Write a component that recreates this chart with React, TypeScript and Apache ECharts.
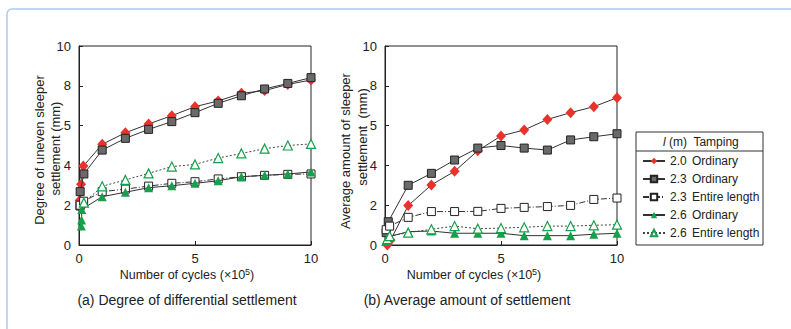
import React, { useEffect, useRef } from 'react';
import * as echarts from 'echarts';

const seriesNames = ['2.0 Ordinary', '2.3 Ordinary', '2.3 Entire length', '2.6 Ordinary', '2.6 Entire length'];
const yTickLabels: Record<number, string> = { 0: '0', 2: '2', 4: '4', 6: '5', 8: '8', 10: '10' };
const xTickLabels: Record<number, string> = { 0: '0', 5: '5', 10: '10' };

// (a) Degree of differential settlement  [cycles x10^5, mm]
const diffOrd20 = [[0.03, 2.23], [0.09, 3.05], [0.19, 3.97], [1, 5.06], [2, 5.64], [3, 6.08], [4, 6.5], [5, 6.95], [6, 7.24], [7, 7.62], [8, 7.76], [9, 8.07], [10, 8.29]];
const diffOrd23 = [[0.04, 1.96], [0.05, 2.68], [0.21, 3.57], [1, 4.77], [2, 5.36], [3, 5.81], [4, 6.2], [5, 6.65], [6, 7.12], [7, 7.5], [8, 7.84], [9, 8.12], [10, 8.41]];
const diffEnt23 = [[0.05, 2.0], [0.2, 2.2], [1, 2.68], [2, 2.81], [3, 2.96], [4, 3.1], [5, 3.18], [6, 3.32], [7, 3.43], [8, 3.5], [9, 3.55], [10, 3.57]];
const diffOrd26 = [[0.1, 0.95], [0.11, 1.26], [0.12, 1.79], [1, 2.43], [2, 2.65], [3, 2.88], [4, 2.98], [5, 3.1], [6, 3.23], [7, 3.43], [8, 3.5], [9, 3.57], [10, 3.67]];
const diffEnt26 = [[0.21, 2.13], [1, 2.95], [2, 3.27], [3, 3.6], [4, 3.94], [5, 4.05], [6, 4.37], [7, 4.6], [8, 4.84], [9, 5.0], [10, 5.08]];

// (b) Average amount of settlement
const avgOrd20 = [[0.1, 0], [0.24, 0.25], [1, 1.98], [2, 3.02], [3, 3.7], [4, 4.74], [5, 5.48], [6, 5.78], [7, 6.31], [8, 6.65], [9, 6.95], [10, 7.4]];
const avgOrd23 = [[0.05, 0.62], [0.14, 1.17], [1, 3.0], [2, 3.6], [3, 4.27], [4, 4.87], [5, 5.0], [6, 4.87], [7, 4.77], [8, 5.28], [9, 5.44], [10, 5.59]];
const avgEnt23 = [[0.05, 0.77], [0.2, 0.95], [1, 1.39], [2, 1.68], [3, 1.68], [4, 1.69], [5, 1.84], [6, 1.89], [7, 1.93], [8, 1.99], [9, 2.29], [10, 2.36]];
const avgOrd26 = [[0.03, 0.17], [0.17, 0.42], [1, 0.67], [2, 0.7], [3, 0.59], [4, 0.59], [5, 0.59], [6, 0.47], [7, 0.47], [8, 0.47], [9, 0.54], [10, 0.59]];
const avgEnt26 = [[0.1, 0.3], [0.2, 0.45], [1, 0.62], [2, 0.79], [3, 0.95], [4, 0.82], [5, 0.85], [6, 0.89], [7, 0.95], [8, 0.95], [9, 0.99], [10, 1.02]];

const FONT = '"Liberation Sans", Arial, Helvetica, sans-serif';
const TXT = '#222';
const RED = '#e8322b';
const GREEN = '#15a04b';

const styles: any[] = [
  { symbol: 'diamond', symbolSize: [10, 11], itemStyle: { color: RED, borderWidth: 0 }, lineStyle: { color: '#333', width: 1, type: 'solid' } },
  { symbol: 'rect', symbolSize: 8, itemStyle: { color: '#6a6a6a', borderColor: '#222', borderWidth: 1 }, lineStyle: { color: '#333', width: 1, type: 'solid' } },
  { symbol: 'rect', symbolSize: 8, itemStyle: { color: '#fff', borderColor: '#222', borderWidth: 1 }, lineStyle: { color: '#333', width: 1, type: [6, 2, 1, 2] } },
  { symbol: 'triangle', symbolSize: 9, itemStyle: { color: GREEN, borderWidth: 0 }, lineStyle: { color: '#333', width: 1, type: 'solid' } },
  { symbol: 'triangle', symbolSize: 9, itemStyle: { color: '#fff', borderColor: GREEN, borderWidth: 1.2 }, lineStyle: { color: '#444', width: 1, type: [2, 2] } },
];

function makeAxisX(gridIndex: number) {
  return {
    type: 'value', gridIndex, min: 0, max: 10, interval: 5,
    axisLine: { show: true, lineStyle: { color: '#222', width: 1 } },
    axisTick: { show: true, inside: true, length: 4, lineStyle: { color: '#222' } },
    axisLabel: { margin: 7, fontSize: 13, color: TXT, fontFamily: FONT, formatter: (v: number) => xTickLabels[v] ?? '' },
    splitLine: { show: false },
  };
}
function makeAxisY(gridIndex: number) {
  return {
    type: 'value', gridIndex, min: 0, max: 10, interval: 2,
    axisLine: { show: true, lineStyle: { color: '#222', width: 1 } },
    axisTick: { show: true, inside: true, length: 4, lineStyle: { color: '#222' } },
    axisLabel: { margin: 8, fontSize: 13, color: TXT, fontFamily: FONT, formatter: (v: number) => yTickLabels[v] ?? '' },
    splitLine: { show: false },
  };
}

export default function App() {
  const ref = useRef<HTMLDivElement>(null);
  useEffect(() => {
    if (!ref.current) return;
    const chart = echarts.init(ref.current, null, { renderer: 'svg' });
    const leftData = [diffOrd20, diffOrd23, diffEnt23, diffOrd26, diffEnt26];
    const rightData = [avgOrd20, avgOrd23, avgEnt23, avgOrd26, avgEnt26];
    const series: any[] = [];
    [leftData, rightData].forEach((set, gi) => {
      set.forEach((d, i) => {
        series.push({
          type: 'line', name: seriesNames[i], xAxisIndex: gi, yAxisIndex: gi, data: d,
          showAllSymbol: true, ...styles[i], z: 2 + i,
        });
      });
    });
    const plainText = (text: string, x: number, y: number, size: number, rotation = 0, align = 'center') => ({
      type: 'text', x, y, rotation,
      style: { text, fontSize: size, fontFamily: FONT, fill: TXT, textAlign: align, textVerticalAlign: 'middle' },
    });
    const axisName = (x: number, y: number) => ({
      type: 'text', x, y,
      style: {
        text: '{n|Number of cycles (×10}{s|5}{n|)}', textAlign: 'center', textVerticalAlign: 'middle',
        rich: {
          n: { fontSize: 12.5, fontFamily: FONT, fill: TXT, color: TXT },
          s: { fontSize: 9, fontFamily: FONT, fill: TXT, color: TXT, padding: [0, 0, 7, 0] },
        },
      },
    });
    chart.setOption({
      animation: false,
      grid: [
        { left: 79, top: 46, width: 232, height: 199, show: true, borderColor: '#222', borderWidth: 1, backgroundColor: 'transparent' },
        { left: 385, top: 46, width: 232, height: 199, show: true, borderColor: '#222', borderWidth: 1, backgroundColor: 'transparent' },
      ],
      xAxis: [makeAxisX(0), makeAxisX(1)],
      yAxis: [makeAxisY(0), makeAxisY(1)],
      legend: {
        orient: 'vertical', left: 642, top: 154, itemWidth: 22, itemHeight: 8, itemGap: 4,
        selectedMode: false, data: seriesNames, padding: 0,
        formatter: (name: string) => {
          const k = name.indexOf(' ');
          return `{a|${name.slice(0, k)}}{b|${name.slice(k + 1)}}`;
        },
        textStyle: {
          fontSize: 12, color: TXT, fontFamily: FONT, lineHeight: 14,
          rich: { a: { width: 22, fontSize: 12, fontFamily: FONT, color: TXT }, b: { fontSize: 12, fontFamily: FONT, color: TXT } },
        },
      },
      graphic: [
        { type: 'rect', shape: { x: 7, y: 9, width: 820, height: 360, r: 5 }, style: { fill: 'none', stroke: '#adcaec', lineWidth: 1.5 }, silent: true },
        plainText('Degree of uneven sleeper', 39, 150, 13, Math.PI / 2),
        plainText('settlement (mm)', 55, 148.5, 13, Math.PI / 2),
        plainText('Average amount of sleeper', 345, 151, 13, Math.PI / 2),
        plainText('settlement  (mm)', 362, 137, 13, Math.PI / 2),
        axisName(187, 275),
        axisName(474, 275),
        plainText('(a) Degree of differential settlement', 187, 300, 14),
        plainText('(b) Average amount of settlement', 467, 300, 14),
        { type: 'rect', shape: { x: 636, y: 132, width: 127, height: 113 }, style: { fill: 'none', stroke: '#333', lineWidth: 1 } },
        { type: 'line', shape: { x1: 636, y1: 151, x2: 763, y2: 151 }, style: { stroke: '#333', lineWidth: 1 } },
        {
          type: 'text', x: 663, y: 142,
          style: {
            text: '{i|l} (m)  Tamping', fontSize: 12, fontFamily: FONT, fill: TXT, textVerticalAlign: 'middle',
            rich: { i: { fontStyle: 'italic', fontSize: 12, fontFamily: FONT, fill: TXT, color: TXT } },
          },
        },
      ],
      series,
    });
    return () => chart.dispose();
  }, []);
  return <div ref={ref} style={{ position: 'absolute', left: 0, top: 0, width: 791, height: 329, background: '#fff' }} />;
}
